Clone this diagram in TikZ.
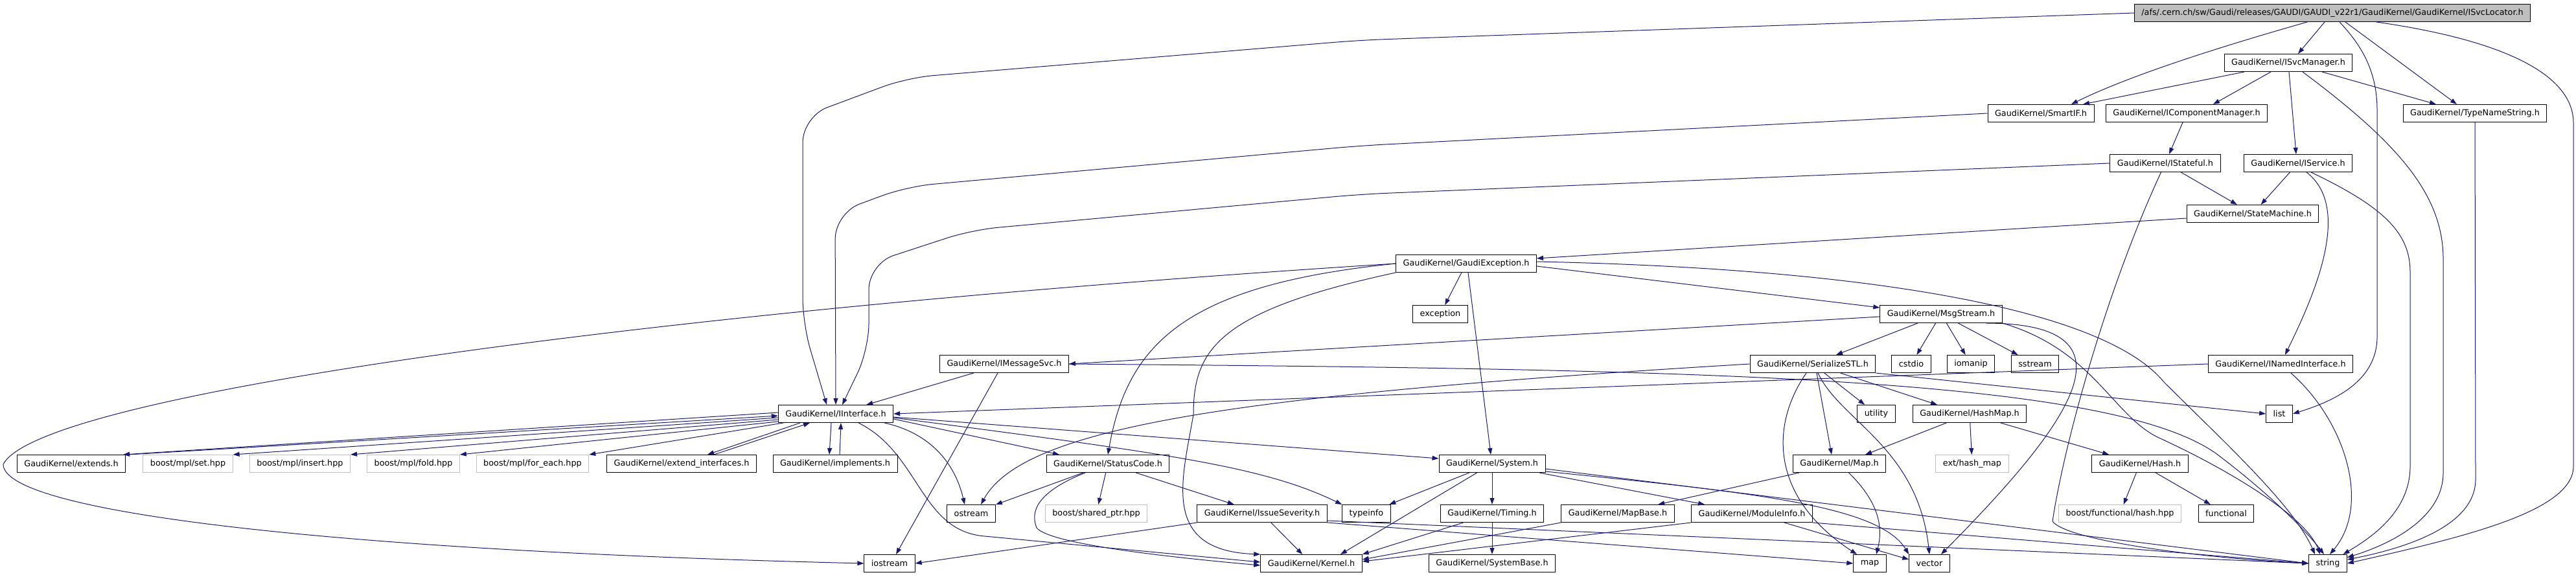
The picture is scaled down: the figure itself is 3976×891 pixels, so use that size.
\documentclass[tikz,border=0pt]{standalone}
\usepackage{fontspec}
\setmainfont{DejaVu Sans}
\usetikzlibrary{arrows.meta}

\definecolor{depblue}{HTML}{191970}
\definecolor{hdrgray}{HTML}{BFBFBF}

\tikzset{
  hdr/.style={draw=black, line width=1pt, rectangle, minimum height=27pt,
    inner xsep=11pt, inner ysep=0pt, font=\fontsize{12.8}{15}\selectfont},
  extern/.style={hdr, draw=hdrgray},
  dep/.style={->, draw=depblue, line width=1pt},
}

\begin{document}
\begin{tikzpicture}[x=1pt, y=-1pt, >={Triangle[length=10pt,width=7pt]}]
  \useasboundingbox (0,0) rectangle (3976,891);

  % Headers, row by row
  \node[hdr, fill=hdrgray] (locator) at (3600,20) {/afs/.cern.ch/sw/Gaudi/releases/GAUDI/GAUDI\_v22r1/GaudiKernel/GaudiKernel/ISvcLocator.h};
  \node[hdr] (svcmgr) at (3532,97) {GaudiKernel/ISvcManager.h};
  \node[hdr] (smartif) at (3150,175) {GaudiKernel/SmartIF.h};
  \node[hdr] (compmgr) at (3375,175) {GaudiKernel/IComponentManager.h};
  \node[hdr] (typename) at (3820,175) {GaudiKernel/TypeNameString.h};
  \node[hdr] (stateful) at (3342,252) {GaudiKernel/IStateful.h};
  \node[hdr] (service) at (3547,252) {GaudiKernel/IService.h};
  \node[hdr] (statemach) at (3477,330) {GaudiKernel/StateMachine.h};
  \node[hdr] (gexc) at (2263,407) {GaudiKernel/GaudiException.h};
  \node[hdr] (exception) at (2223,485) {exception};
  \node[hdr] (msgstream) at (2996,485) {GaudiKernel/MsgStream.h};
  \node[hdr] (imsgsvc) at (1550,562) {GaudiKernel/IMessageSvc.h};
  \node[hdr] (serstl) at (2798,562) {GaudiKernel/SerializeSTL.h};
  \node[hdr] (cstdio) at (2950,562) {cstdio};
  \node[hdr] (iomanip) at (3042,562) {iomanip};
  \node[hdr] (sstream) at (3141,562) {sstream};
  \node[hdr] (named) at (3520,562) {GaudiKernel/INamedInterface.h};
  \node[hdr] (iface) at (1290,639) {GaudiKernel/IInterface.h};
  \node[hdr] (utility) at (2896,639) {utility};
  \node[hdr] (hashmap) at (3040,639) {GaudiKernel/HashMap.h};
  \node[hdr] (list) at (3518,639) {list};
  \node[hdr] (extends) at (110,716) {GaudiKernel/extends.h};
  \node[extern] (setmpl) at (290,716) {boost/mpl/set.hpp};
  \node[extern] (insertmpl) at (463,716) {boost/mpl/insert.hpp};
  \node[extern] (foldmpl) at (638,716) {boost/mpl/fold.hpp};
  \node[extern] (foreach) at (822,716) {boost/mpl/for\_each.hpp};
  \node[hdr] (extifaces) at (1052,716) {GaudiKernel/extend\_interfaces.h};
  \node[hdr] (implements) at (1289,716) {GaudiKernel/implements.h};
  \node[hdr] (statcode) at (1710,716) {GaudiKernel/StatusCode.h};
  \node[hdr] (system) at (2303,716) {GaudiKernel/System.h};
  \node[hdr] (maph) at (2839,716) {GaudiKernel/Map.h};
  \node[extern] (hashext) at (3044,716) {ext/hash\_map};
  \node[hdr] (hash) at (3303,716) {GaudiKernel/Hash.h};
  \node[hdr] (ostream) at (1499,793) {ostream};
  \node[extern] (sharedptr) at (1692,793) {boost/shared\_ptr.hpp};
  \node[hdr] (issue) at (1948,793) {GaudiKernel/IssueSeverity.h};
  \node[hdr] (typeinfo) at (2109,793) {typeinfo};
  \node[hdr] (timing) at (2303,793) {GaudiKernel/Timing.h};
  \node[hdr] (mapbase) at (2497,793) {GaudiKernel/MapBase.h};
  \node[hdr] (modinfo) at (2704,793) {GaudiKernel/ModuleInfo.h};
  \node[extern] (boosthash) at (3272,793) {boost/functional/hash.hpp};
  \node[hdr] (functional) at (3436,793) {functional};
  \node[hdr] (iostream) at (1373,870) {iostream};
  \node[hdr] (kernel) at (2024,870) {GaudiKernel/Kernel.h};
  \node[hdr] (sysbase) at (2303,870) {GaudiKernel/SystemBase.h};
  \node[hdr] (stdmap) at (2886,870) {map};
  \node[hdr] (vector) at (2978,870) {vector};
  \node[hdr] (string) at (3593,870) {string};

  % ISvcLocator.h
  \draw[dep] ([xshift=-12pt]locator.south) -- ([xshift=15pt]svcmgr.north);
  \draw[dep] ([xshift=20pt]locator.south) -- ([xshift=-28pt]typename.north);
  \draw[dep] ([xshift=-39pt]locator.south) .. controls (3470,60) and (3300,110) .. ([xshift=47pt]smartif.north);
  \draw[dep, rounded corners=40pt] (locator.west) -- (2100,62) -- (1400,120) -- (1239,180) -- (1239,500) -- ([xshift=-14pt]iface.north);
  \draw[dep] ([xshift=11pt]locator.south) .. controls (3645,70) and (3669,110) .. (3669,170) -- (3669,520) .. controls (3669,590) and (3600,620) .. (list.east);
  \draw[dep] ([xshift=68pt]locator.south) .. controls (3850,60) and (3972,110) .. (3972,190) -- (3972,720) .. controls (3972,790) and (3800,830) .. (string.east);

  % ISvcManager.h
  \draw[dep] ([xshift=-68pt]svcmgr.south) -- ([xshift=65pt]smartif.north);
  \draw[dep] ([xshift=-27pt]svcmgr.south) -- ([xshift=41pt]compmgr.north);
  \draw[dep] ([xshift=1pt]svcmgr.south) -- ([xshift=-3pt]service.north);
  \draw[dep] ([xshift=52pt]svcmgr.south) -- ([xshift=-60pt]typename.north);
  \draw[dep] ([xshift=22pt]svcmgr.south) .. controls (3700,220) and (3771,300) .. (3771,400) -- (3771,730) .. controls (3771,800) and (3690,840) .. (string);

  % SmartIF.h, IComponentManager.h, TypeNameString.h
  \draw[dep, rounded corners=40pt] (smartif.west) -- (2100,225) -- (1400,288) -- (1289,329) -- (iface.north);
  \draw[dep] (compmgr) -- (stateful);
  \draw[dep] (typename.south) -- (3821,740) .. controls (3821,810) and (3720,845) .. (string);

  % IStateful.h and IService.h
  \draw[dep, rounded corners=40pt] (stateful.west) -- (2100,300) -- (1500,355) -- (1341,407) -- (1341,540) -- ([xshift=10pt]iface.north);
  \draw[dep] (stateful) -- (statemach);
  \draw[dep] (stateful) .. controls (3250,450) and (3185,690) .. (3168,805) .. controls (3190,835) and (3400,862) .. (string.west);
  \draw[dep] (service) -- (statemach);
  \draw[dep] ([xshift=13pt]service.south) .. controls (3630,320) and (3575,450) .. (named);
  \draw[dep] ([xshift=20pt]service.south) .. controls (3680,320) and (3720,360) .. (3720,420) -- (3720,720) .. controls (3720,790) and (3660,830) .. (string);

  % StateMachine.h
  \draw[dep] ([yshift=-7pt]statemach.west) -- ([yshift=8pt]gexc.east);

  % GaudiException.h
  \draw[dep] (gexc.west) .. controls (1000,480) and (60,610) .. (5,717) .. controls (5,790) and (500,850) .. (iostream.west);
  \draw[dep] (gexc.west) .. controls (1830,440) and (1740,530) .. (statcode.north);
  \draw[dep] (gexc.south west) .. controls (1880,480) and (1842,540) .. (1842,640) .. controls (1825,740) and (1790,850) .. (kernel.north west);
  \draw[dep] (gexc) -- (exception);
  \draw[dep] ([xshift=3pt]gexc.south) -- ([xshift=-2pt]system.north);
  \draw[dep] ([yshift=-4pt]gexc.east) -- ([yshift=10pt]msgstream.west);
  \draw[dep] ([yshift=3pt]gexc.east) .. controls (2900,415) and (3250,480) .. (3340,590) .. controls (3430,680) and (3540,780) .. ([xshift=-20pt]string.north);

  % MsgStream.h
  \draw[dep] ([yshift=-4pt]msgstream.west) -- (imsgsvc.east);
  \draw[dep] (msgstream) -- (serstl);
  \draw[dep] (msgstream) -- (cstdio);
  \draw[dep] (msgstream) -- (iomanip);
  \draw[dep] (msgstream) -- (sstream);
  \draw[dep] ([xshift=70pt]msgstream.south) .. controls (3300,500) and (3210,640) .. ([xshift=18pt]vector.north);
  \draw[dep] (msgstream.south east) .. controls (3230,540) and (3260,640) .. (3330,675) .. controls (3450,730) and (3560,800) .. ([xshift=-12pt]string.north);

  % IMessageSvc.h
  \draw[dep] (imsgsvc) -- (iface);
  \draw[dep] ([xshift=-10pt]imsgsvc.south) -- ([xshift=10pt]iostream.north);
  \draw[dep] (imsgsvc.east) .. controls (2600,570) and (3250,580) .. (3420,700) .. controls (3500,760) and (3560,820) .. ([xshift=-6pt]string.north);

  % SerializeSTL.h
  \draw[dep] (serstl.west) .. controls (1900,610) and (1580,660) .. ([xshift=15pt]ostream.north);
  \draw[dep] (serstl) -- (utility);
  \draw[dep] (serstl) -- ([xshift=-50pt]hashmap.north);
  \draw[dep] ([xshift=6pt]serstl.south) -- ([xshift=-12pt]maph.north);
  \draw[dep] ([xshift=8pt]serstl.south) .. controls (2840,650) and (2960,690) .. (vector.north);
  \draw[dep] ([xshift=-10pt]serstl.south) .. controls (2730,660) and (2735,770) .. ([xshift=-20pt]stdmap.north);
  \draw[dep] (serstl.south east) -- (list.west);

  % INamedInterface.h
  \draw[dep] (named.west) -- (iface.east);
  \draw[dep] (named) .. controls (3620,650) and (3660,780) .. ([xshift=3pt]string.north);

  % IInterface.h
  \draw[dep] ([yshift=2pt]iface.west) -- ([xshift=-4pt]extends.north east);
  \draw[dep] ([xshift=4pt]extends.north east) -- ([yshift=-3pt]iface.west);
  \draw[dep] ([yshift=-6pt]iface.west) -- (setmpl.north east);
  \draw[dep] ([yshift=-9pt]iface.west) -- (insertmpl.north east);
  \draw[dep] ([yshift=-12pt]iface.west) -- (foldmpl.north east);
  \draw[dep] ([xshift=8pt]iface.south west) -- (foreach.north east);
  \draw[dep] ([xshift=-55pt]iface.south) -- ([xshift=40pt]extifaces.north);
  \draw[dep] ([xshift=50pt]extifaces.north) -- ([xshift=-40pt]iface.south);
  \draw[dep] ([xshift=-7pt]iface.south) -- ([xshift=-9pt]implements.north);
  \draw[dep] ([xshift=7pt]implements.north) -- ([xshift=8pt]iface.south);
  \draw[dep] ([yshift=-8pt]iface.east) -- ([xshift=-75pt]statcode.north);
  \draw[dep] ([yshift=-5pt]iface.east) -- ([yshift=8pt]system.west);
  \draw[dep] ([yshift=-6pt]iface.east) .. controls (1800,700) and (1950,720) .. (typeinfo.north west);
  \draw[dep] ([xshift=75pt]iface.south) .. controls (1420,665) and (1470,700) .. ([xshift=-10pt]ostream.north);
  \draw[dep] ([xshift=35pt]iface.south) .. controls (1420,700) and (1420,820) .. (1520,828) .. controls (1700,845) .. ([yshift=2pt]kernel.west);

  % StatusCode.h
  \draw[dep] (statcode) -- (ostream);
  \draw[dep] (statcode) -- (sharedptr);
  \draw[dep] (statcode) -- (issue);
  \draw[dep] (statcode) .. controls (1600,760) and (1590,790) .. (1600,815) .. controls (1620,840) and (1800,860) .. ([yshift=-3pt]kernel.west);

  % IssueSeverity.h
  \draw[dep] (issue.south west) -- (iostream.east);
  \draw[dep] (issue) -- (kernel);
  \draw[dep] (issue.south east) -- (stdmap.west);
  \draw[dep] ([yshift=3pt]issue.south east) -- (string.west);

  % System.h
  \draw[dep] (system) -- (typeinfo);
  \draw[dep] (system) -- ([xshift=45pt]kernel.north);
  \draw[dep] (system) -- (timing);
  \draw[dep] (system) -- (modinfo);
  \draw[dep] ([yshift=-8pt]system.east) -- (string.west);
  \draw[dep] ([yshift=-12pt]system.east) .. controls (2700,760) and (2900,780) .. (vector.north west);

  % Timing.h, MapBase.h, ModuleInfo.h
  \draw[dep] (timing) -- (sysbase);
  \draw[dep] (timing) -- (kernel.north east);
  \draw[dep] (mapbase.south west) -- ([yshift=6pt]kernel.east);
  \draw[dep] (modinfo.south west) -- ([yshift=3pt]kernel.east);
  \draw[dep] ([xshift=50pt]modinfo.south) -- ([yshift=6pt]vector.west);
  \draw[dep] (modinfo.south east) -- (string.west);

  % Map.h, HashMap.h, Hash.h
  \draw[dep] (maph) .. controls (2905,780) and (2905,820) .. ([xshift=10pt]stdmap.north);
  \draw[dep] (maph) -- (mapbase);
  \draw[dep] (hashmap) -- ([xshift=40pt]maph.north);
  \draw[dep] (hashmap) -- (hashext);
  \draw[dep] (hashmap) -- (hash);
  \draw[dep] (hash) -- (boosthash);
  \draw[dep] (hash) -- (functional);
\end{tikzpicture}
\end{document}
